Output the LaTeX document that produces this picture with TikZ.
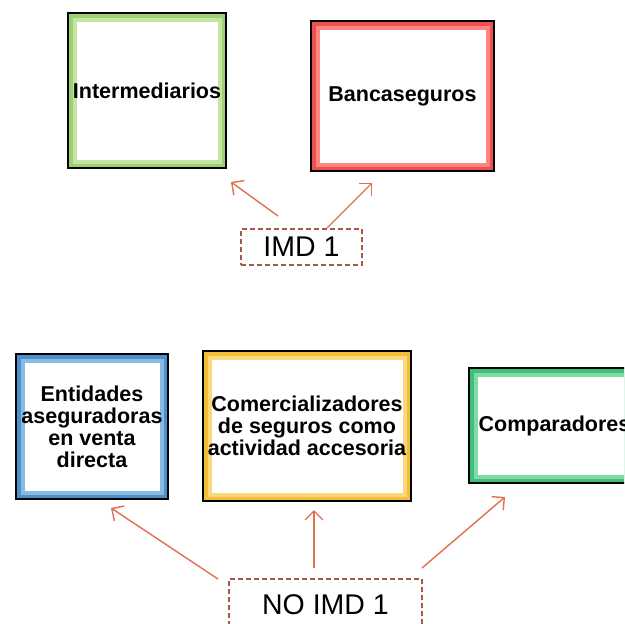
\documentclass[tikz,border=0pt]{standalone}
\usepackage{fontspec}
\setmainfont{Liberation Sans}
\usetikzlibrary{arrows.meta}
\definecolor{cgreen}{HTML}{9FD174}
\definecolor{cgreenl}{HTML}{C4E5A2}
\definecolor{cred}{HTML}{EE4F4F}
\definecolor{credl}{HTML}{FF8585}
\definecolor{cblue}{HTML}{4F8FCC}
\definecolor{cbluel}{HTML}{88BAE6}
\definecolor{cyel}{HTML}{F2BE38}
\definecolor{cyell}{HTML}{FAD97A}
\definecolor{cmint}{HTML}{40BF7A}
\definecolor{cmintl}{HTML}{80DBA6}
\definecolor{dashc}{HTML}{A65A45}
\definecolor{arrc}{HTML}{E0704F}
\tikzset{
  framebox/.style n args={2}{draw=black, line width=1.6pt, fill=#1, inner sep=0pt,
    align=center, font=\bfseries\fontsize{21.5}{22}\selectfont,
    path picture={
      \fill[#2] ([shift={(4.5pt,4.5pt)}]path picture bounding box.south west) rectangle ([shift={(-4.5pt,-4.5pt)}]path picture bounding box.north east);
      \fill[white] ([shift={(8.5pt,8.5pt)}]path picture bounding box.south west) rectangle ([shift={(-8.5pt,-8.5pt)}]path picture bounding box.north east);
    }},
  dashbox/.style={draw=dashc, dashed, dash pattern=on 5pt off 3pt, line width=1.4pt, inner sep=0pt,
    font=\fontsize{28.5}{30}\selectfont},
  arr/.style={draw=arrc, line width=1.4pt, -{Straight Barb[length=9pt,width=18pt,line width=1.4pt]}}
}
\begin{document}
\begin{tikzpicture}[x=1pt,y=-1pt]
\useasboundingbox (0,0) rectangle (624,624);
\clip (0,0) rectangle (624,624);
\node[framebox={cgreen}{cgreenl}, minimum width=158pt, minimum height=155pt] (inter) at (147,90.5) {Intermediarios};
\node[framebox={cred}{credl}, minimum width=183pt, minimum height=150pt] (banca) at (402.5,96) {Bancaseguros};
\node[dashbox, minimum width=121pt, minimum height=36pt] (imd) at (301.5,247) {IMD 1};
\node[framebox={cblue}{cbluel}, minimum width=152pt, minimum height=145pt] (ent) at (92,426.5) {Entidades\\aseguradoras\\en venta\\directa};
\node[framebox={cyel}{cyell}, minimum width=208pt, minimum height=150pt] (com) at (307,426) {Comercializadores\\de seguros como\\actividad accesoria};
\node[framebox={cmint}{cmintl}, minimum width=171pt, minimum height=115pt] (cmp) at (554.5,425.5) {Comparadores};
\node[dashbox, minimum width=193pt, minimum height=52pt] (noimd) at (325.5,605) {NO IMD 1};
\coordinate (a1s) at (278,216); \coordinate (a1e) at (231,182);
\coordinate (a2s) at (327,228); \coordinate (a2e) at (372,183);
\coordinate (b1s) at (218,579); \coordinate (b1e) at (111,508);
\coordinate (b2s) at (314,568); \coordinate (b2e) at (314,510);
\coordinate (b3s) at (422,568); \coordinate (b3e) at (505,497);
\draw[arr] (a1s) -- (a1e);
\draw[arr] (a2s) -- (a2e);
\draw[arr] (b1s) -- (b1e);
\draw[arr] (b2s) -- (b2e);
\draw[arr] (b3s) -- (b3e);
\end{tikzpicture}
\end{document}
